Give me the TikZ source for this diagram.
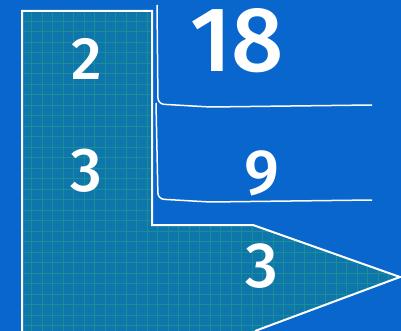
\documentclass[tikz,border=0pt]{standalone}
\usepackage{fontspec}
\setmainfont{Fira Sans}[UprightFont=* Medium]
\usepackage{tikz}
\definecolor{bgblue}{RGB}{8,102,204}
\definecolor{teal}{RGB}{14,118,170}
\definecolor{gridgreen}{RGB}{24,142,150}

\begin{document}
\begin{tikzpicture}[x=1pt, y=-1pt,
          digit/.style={text=white, inner sep=0pt},
          chalk/.style={draw=white, line width=2pt},
          bracket/.style={white, line width=1.5pt, rounded corners=6pt}
        ]
          \fill[bgblue] (0,0) rectangle (401,331);
          \useasboundingbox (0,0) rectangle (401,331);
          % arrow shaped region
          \path[fill=teal] (22,11) -- (152,11) -- (152,225) -- (253,225)
            -- (400,277) -- (255,331) -- (22,331) -- cycle;
          \begin{scope}
            \clip (22,11) -- (152,11) -- (152,225) -- (253,225)
              -- (400,277) -- (255,331) -- (22,331) -- cycle;
            \draw[gridgreen, line width=0.5pt, step=10.5pt] (22,0) grid (401,331);
          \end{scope}
          \draw[chalk] (22,331) -- (22,11) -- (152,11) -- (152,225) -- (253,225)
            -- (400,277) -- (255,331);
          % division brackets
          \coordinate (d1a) at (157,5);
          \coordinate (d1b) at (158,104);
          \coordinate (d1c) at (372,105);
          \coordinate (d2a) at (156,103);
          \coordinate (d2b) at (158,199);
          \coordinate (d2c) at (372,200);
          \draw[bracket] (d1a) -- (d1b) -- (210,107) -- (d1c);
          \draw[bracket] (d2a) -- (d2b) -- (210,202) -- (d2c);
          % numbers
          \node[digit] (two) at (87,59) {\fontsize{60}{60}\selectfont 2};
          \node[digit] (threeA) at (86,171) {\fontsize{62}{62}\selectfont 3};
          \node[digit] (eighteen) at (237,41) {\fontsize{92}{92}\selectfont 18};
          \node[digit] (nine) at (262,173) {\fontsize{64}{64}\selectfont 9};
          \node[digit] (threeB) at (262,266) {\fontsize{64}{64}\selectfont 3};
        \end{tikzpicture}
\end{document}
